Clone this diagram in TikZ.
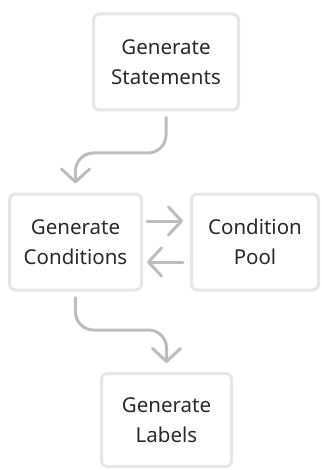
\documentclass[tikz,border=0pt]{standalone}
\usepackage{fontspec}
\setmainfont{Noto Sans}
\usetikzlibrary{arrows.meta,calc}
\definecolor{boxline}{HTML}{E6E6E6}
\definecolor{arrowc}{HTML}{BDBDBD}
\definecolor{txt}{HTML}{2A2A2A}
\begin{document}
\begin{tikzpicture}[x=1pt,y=-1pt,
  box/.style={draw=boxline,line width=3pt,rounded corners=6pt,fill=white,
    align=center,text=txt,font=\fontsize{20.5pt}{30pt}\selectfont,inner sep=0pt},
  conn/.style={draw=arrowc,line width=3pt,line cap=round,
    -{Straight Barb[length=13pt,width=28pt,round]}},
  curve/.style={conn,rounded corners=18pt}]
\useasboundingbox (0,0) rectangle (321,470);
\node[box,minimum width=145pt,minimum height=96pt] (s) at (166,62) {Generate\\Statements};
\node[box,minimum width=132pt,minimum height=96pt] (c) at (75.5,242) {Generate\\Conditions};
\node[box,minimum width=127pt,minimum height=96pt] (p) at (255,242) {Condition\\Pool};
\node[box,minimum width=130pt,minimum height=93pt] (l) at (166.5,420) {Generate\\Labels};
\coordinate (m1) at (0,153);
\coordinate (m2) at (0,330);
\draw[curve,shorten <=6pt,shorten >=9pt] (s.south) -- (s.south |- m1) -- (c.north |- m1) -- (c.north);
\draw[curve,shorten <=6pt,shorten >=9pt] (c.south) -- (c.south |- m2) -- (l.north |- m2) -- (l.north);
\draw[conn] ($(c.east)+(4,-21)$) -- ($(p.west)+(-7,-21)$);
\draw[conn] ($(p.west)+(-7,20)$) -- ($(c.east)+(4,20)$);
\end{tikzpicture}
\end{document}
